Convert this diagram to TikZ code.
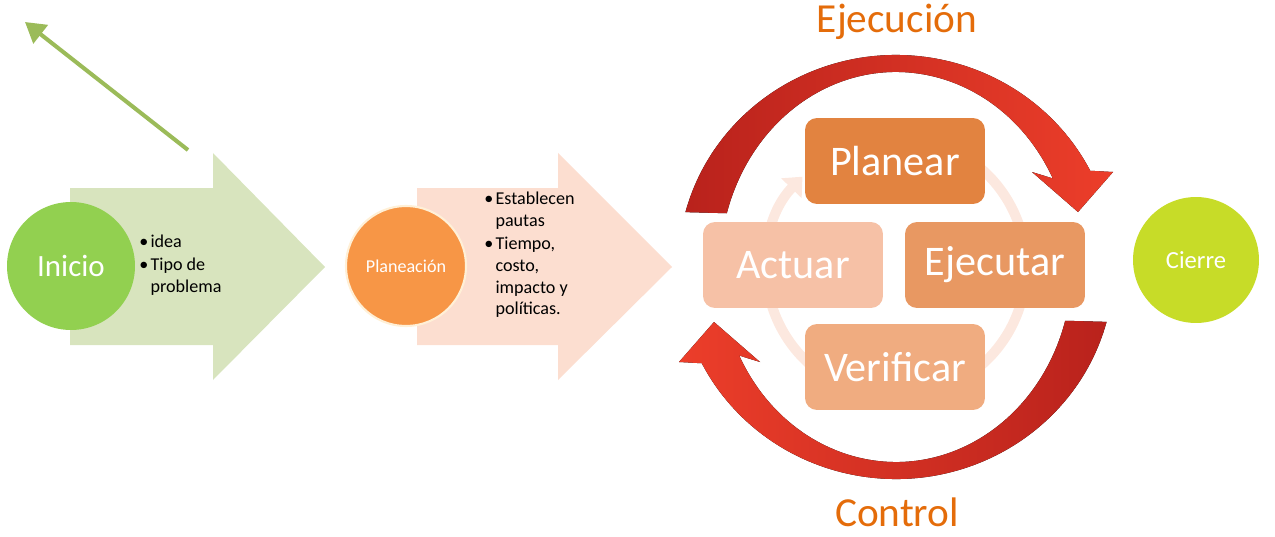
\documentclass[tikz,border=0pt]{standalone}
\usepackage{fontspec}
\setmainfont{Carlito}
\usetikzlibrary{arrows.meta,positioning,shapes.geometric}
\definecolor{leafline}{RGB}{155,187,89}
\definecolor{leafpale}{RGB}{216,228,190}
\definecolor{leaf}{RGB}{146,208,80}
\definecolor{peachpale}{RGB}{252,222,208}
\definecolor{tangerine}{RGB}{247,150,70}
\definecolor{cream}{RGB}{255,240,215}
\definecolor{lime}{RGB}{199,220,40}
\definecolor{rust}{RGB}{228,108,10}
\definecolor{redhi}{RGB}{236,62,42}
\definecolor{redlo}{RGB}{185,34,28}
\definecolor{ringpale}{RGB}{252,232,223}
\definecolor{stepA}{RGB}{226,131,64}
\definecolor{stepB}{RGB}{232,152,98}
\definecolor{stepC}{RGB}{240,172,128}
\definecolor{stepD}{RGB}{246,193,166}
\newcommand{\itm}{\makebox[0.62em][l]{\textbullet}}
\newcommand{\ind}{\hspace*{0.62em}}
\tikzset{
  >={Stealth[length=2.6mm]},
  phase/.style={circle,fill=#1,text=white,inner sep=0pt,align=center},
  blockarrow/.style={fill=#1},
  cyclebox/.style={fill=#1,text=white,rounded corners=0.24cm,minimum width=3.6cm,
    minimum height=1.72cm,font=\fontsize{24}{28}\selectfont},
  bullets/.style={anchor=west,align=left,text=black,inner sep=0pt,
    font=\fontsize{10.3}{12.3}\selectfont},
  title/.style={text=rust,font=\fontsize{23.5}{28}\selectfont},
}
\begin{document}
\begin{tikzpicture}[x=0.02cm,y=-0.02cm]
  \useasboundingbox (0,0) rectangle (1275,537);
  % pointer in the corner
  \coordinate (ptrfrom) at (188,150);
  \coordinate (ptrto) at (25,22);
  \draw[leafline,line width=2.3pt,-{Triangle[length=4mm,width=4.6mm]}] (ptrfrom) -- (ptrto);

  % block arrows
  \fill[blockarrow=leafpale] (70,188) -- (213,188) -- (213,153) -- (325,267)
    -- (213,380) -- (213,345) -- (70,345) -- cycle;
  \fill[blockarrow=peachpale] (417,188) -- (558,188) -- (558,153) -- (672,267)
    -- (558,380) -- (558,345) -- (417,345) -- cycle;

  % phases
  \node[phase=leaf,minimum size=2.56cm,font=\fontsize{17.6}{20}\selectfont] (inicio) at (71,266) {Inicio};
  \node[bullets] (inicionotes) at (139,265) {\itm idea\\[1pt]\itm Tipo de\\\ind problema};
  \node[phase=tangerine,draw=cream,line width=1.2pt,minimum size=2.4cm,
    font=\fontsize{10.3}{12}\selectfont] (planeacion) at (406,266) {Planeaci\'on};
  \node[bullets] (planeanotes) at (484,255) {\itm Establecen\\\ind pautas\\[1pt]
    \itm Tiempo,\\\ind costo,\\\ind impacto y\\\ind pol\'iticas.};
  \node[phase=lime,minimum size=2.52cm,font=\fontsize{14}{16}\selectfont] (cierre) at (1196,260) {Cierre};

  % execution / control loop
  \begin{scope}[shift={(896,267)},yscale=-1]
    \draw[ringpale,line width=5.7pt,-{Triangle[length=3.2mm,width=5.5mm]}]
      (116:130) arc[start angle=116,end angle=-224,radius=130];
    \foreach \r/\lc/\rc in {0/redlo/redhi,180/redhi/redlo}{
      \fill[rotate=\r,left color=\lc,right color=\rc]
        (165:218 and 212) arc[start angle=165,end angle=27,x radius=218,y radius=212]
        -- (217,95) -- (182,55) -- (136,95)
        -- (27:176 and 195) arc[start angle=27,end angle=164,x radius=176,y radius=195]
        -- cycle;
    }
  \end{scope}

  \node[cyclebox=stepA] (planear) at (895,161) {Planear};
  \node[cyclebox=stepB] (ejecutar) at (995,265) {Ejecutar};
  \node[cyclebox=stepC] (verificar) at (895,367) {Verificar};
  \node[cyclebox=stepD] (actuar) at (793,265) {Actuar};

  \node[title] (ejecucion) at (897,22) {Ejecuci\'on};
  \node[title] (control) at (897,512) {Control};
\end{tikzpicture}
\end{document}
